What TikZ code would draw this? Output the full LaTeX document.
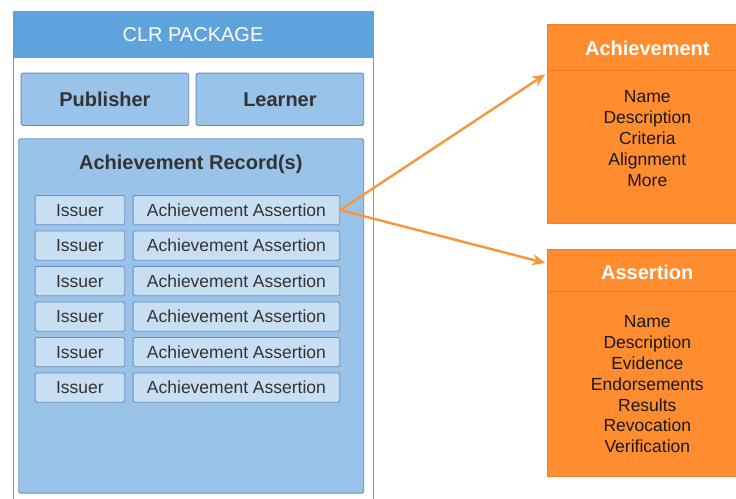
\documentclass[tikz,border=0pt]{standalone}
\usepackage{fontspec}
\setmainfont{Liberation Sans}
\usetikzlibrary{arrows.meta,calc}
\definecolor{hdrblue}{HTML}{5FA3DD}
\definecolor{midblue}{HTML}{99C3E8}
\definecolor{litblue}{HTML}{C8DEF3}
\definecolor{bordblue}{HTML}{6C8EBF}
\definecolor{orfill}{HTML}{FF8D2F}
\definecolor{orline}{HTML}{EE7A1E}
\definecolor{arrowor}{HTML}{F7963A}
\definecolor{txtgray}{HTML}{333333}
\begin{document}
\begin{tikzpicture}[x=1pt,y=-1pt,
  blbox/.style={draw=bordblue, line width=0.9pt, rounded corners=1.5pt, anchor=north west, inner sep=0pt},
  midbox/.style={blbox, fill=midblue},
  smallbox/.style={blbox, fill=litblue, minimum height=29.3pt, font=\fontsize{17.5}{21}\selectfont, text=txtgray, text height=12.6pt, text depth=0pt},
  boldlbl/.style={font=\bfseries\fontsize{20}{24}\selectfont, text=txtgray, text height=14.4pt, text depth=0pt},
  orbox/.style={fill=orfill, draw=orfill!92!black, line width=0.5pt, anchor=north west, inner sep=0pt, minimum width=200pt},
  ortitle/.style={font=\bfseries\fontsize{20}{24}\selectfont, text=white, text height=14.4pt, text depth=0pt},
  orbody/.style={font=\fontsize{17.5}{20.9}\selectfont, text=black!90, align=center, anchor=base, inner sep=0pt},
  arr/.style={draw=arrowor, line width=2.4pt, -{Stealth[length=13pt,width=11pt,inset=4pt]}}
]
\useasboundingbox (0,0) rectangle (736,498);
\clip (0,0) rectangle (736,498);
\fill[white] (0,0) rectangle (736,498);

% CLR package
\node[draw=bordblue!90, line width=0.9pt, fill=white, anchor=north west, inner sep=0pt,
      minimum width=360pt, minimum height=520pt] (pkg) at (12.5,11) {};
\node[draw=bordblue!90, line width=0.9pt, fill=hdrblue, anchor=north west, inner sep=0pt,
      minimum width=360pt, minimum height=45.5pt, text=white,
      font=\fontsize{20}{24}\selectfont, text height=14.4pt, text depth=0pt] (hdr) at (12.5,11) {CLR PACKAGE};

\node[midbox, minimum width=167.6pt, minimum height=52.3pt, boldlbl] (pub) at (20.7,72.7) {Publisher};
\node[midbox, minimum width=167.6pt, minimum height=52.3pt, boldlbl] (lrn) at (195.7,72.7) {Learner};

\node[midbox, minimum width=345pt, minimum height=354.4pt] (rec) at (18.3,138.3) {};
\node[boldlbl] (rect) at (190.8,162.3) {Achievement Record(s)};

\foreach \i in {1,...,6} {
  \node[smallbox, minimum width=89.6pt] (is\i) at (34.7,{195+35.5*(\i-1)}) {Issuer};
  \node[smallbox, minimum width=206.6pt] (aa\i) at (132.7,{195+35.5*(\i-1)}) {Achievement Assertion};
}

% Achievement box
\node[orbox, minimum height=199pt] (ach) at (547.3,24.3) {};
\draw[orline, line width=1pt] (547.3,70) -- (760,70);
\node[ortitle] (acht) at (647.3,48.3) {Achievement};
\node[orbody] (achb) at (647.3,186) {Name\\Description\\Criteria\\Alignment\\More};

% Assertion box
\node[orbox, minimum height=226.7pt] (asr) at (547.3,249) {};
\draw[orline, line width=1pt] (547.3,291) -- (760,291);
\node[ortitle] (asrt) at (647.3,272.3) {Assertion};
\node[orbody] (asrb) at (647.3,452.8) {Name\\Description\\Evidence\\Endorsements\\Results\\Revocation\\Verification};

% connectors
\draw[arr] (aa1.east) -- ([xshift=-2pt,yshift=-50pt]ach.north west);
\draw[arr] (aa1.east) -- ([xshift=-2pt,yshift=-14pt]asr.north west);
\end{tikzpicture}
\end{document}
